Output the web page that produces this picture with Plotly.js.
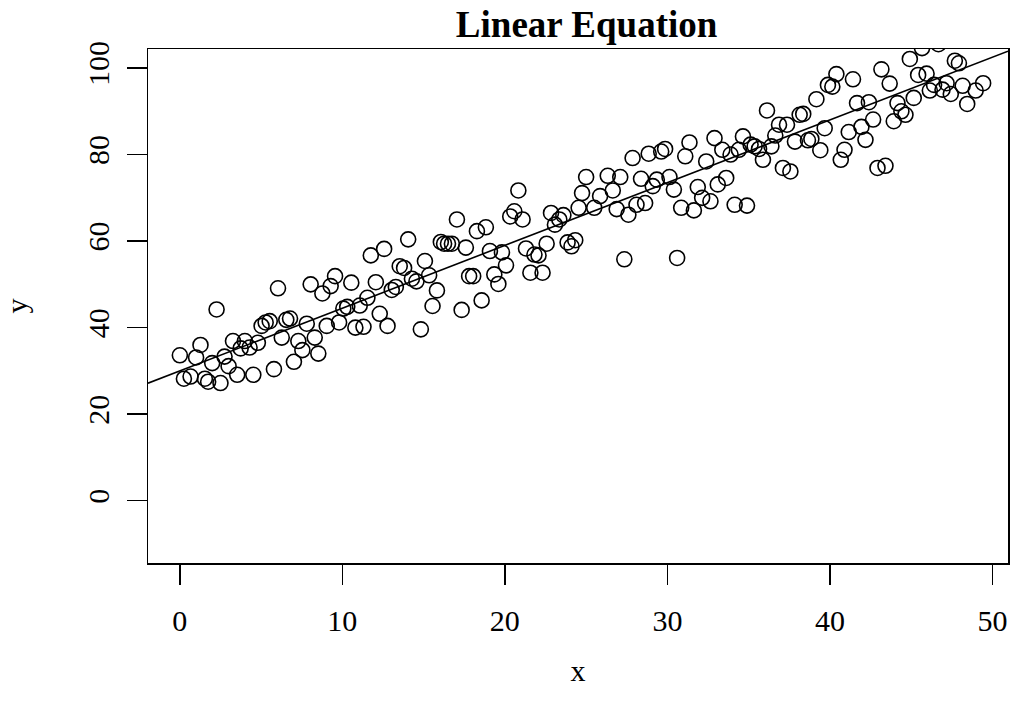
<!DOCTYPE html>
<html>
<head>
<meta charset="utf-8">
<script src="https://cdn.plot.ly/plotly-3.0.1.min.js"></script>
<style>html,body{margin:0;padding:0;background:#fff;}#chart{width:1018px;height:717px;}</style>
</head>
<body>
<div id="chart"></div>
<script>
var xValues = [
  0.0,0.25,0.66,1.0,1.27,1.54,1.74,1.99,2.26,2.5,2.75,3.0,3.27,3.53,3.74,4.0,4.29,4.52,4.8,5.03,
  5.28,5.53,5.79,6.04,6.27,6.55,6.78,7.02,7.29,7.54,7.81,8.05,8.3,8.52,8.77,9.04,9.28,9.55,9.8,10.06,
  10.3,10.55,10.8,11.07,11.3,11.54,11.75,
  12.06,12.3,12.57,12.78,13.04,13.29,13.53,13.8,14.05,14.28,14.56,14.83,15.08,15.34,15.55,15.82,
  16.06,16.26,16.5,16.74,17.05,17.34,17.6,17.8,18.05,18.28,18.57,18.83,19.08,19.35,19.6,19.82,
  20.07,20.33,20.58,20.83,21.09,21.3,21.57,21.82,22.07,22.32,22.57,22.84,23.08,23.35,23.6,23.86,
  24.1,24.33,24.54,24.75,25.0,
  25.5,25.86,26.33,26.64,26.88,27.1,27.35,27.6,27.86,28.1,28.38,28.63,28.85,29.1,29.35,29.62,29.86,
  30.13,30.4,30.6,30.85,31.1,31.36,31.63,31.87,32.14,32.39,32.65,32.9,33.1,33.38,33.62,33.89,
  34.14,34.4,34.65,34.9,35.12,35.37,35.64,35.88,36.13,36.4,36.64,36.87,37.11,37.36,37.57,37.85,
  38.14,38.36,38.65,38.86,39.17,39.41,39.68,39.88,40.15,40.4,40.67,40.9,41.16,41.42,41.67,41.94,
  42.19,42.4,42.66,42.93,43.17,43.42,43.68,43.93,44.16,44.4,44.65,44.92,45.16,45.43,45.67,45.95,
  46.15,46.41,46.68,46.93,47.18,47.44,47.69,47.94,48.17,48.45,48.97,49.43
];
var yValues = [
  33.6,28.2,28.7,33.1,36.0,28.2,27.5,31.8,44.2,27.2,33.3,31.1,36.9,29.1,35.2,36.9,35.4,29.1,36.5,40.4,
  41.2,41.5,30.4,49.1,37.7,41.8,42.1,32.1,36.9,34.8,40.9,50.0,37.7,34.0,47.9,40.4,49.6,51.9,41.2,44.4,
  44.8,50.4,40.0,45.1,40.2,46.9,56.7,
  50.5,43.2,58.2,40.4,48.7,49.4,54.2,53.8,60.4,51.3,50.7,39.6,55.4,52.1,45.0,48.6,
  59.8,59.4,59.4,59.4,65.0,44.1,58.5,51.9,51.9,62.3,46.3,63.2,57.7,52.3,50.1,57.4,
  54.4,65.7,66.9,71.7,65.0,58.3,52.7,56.9,56.7,52.7,59.4,66.5,63.8,65.0,66.0,59.7,
  58.8,60.2,67.7,71.1,74.8,
  67.7,70.4,75.1,71.7,67.4,74.8,55.8,66.1,79.2,68.4,74.4,68.8,80.2,72.7,74.2,80.7,81.3,
  74.8,71.9,56.1,67.7,79.6,82.8,67.1,72.5,70.0,78.4,69.2,83.8,73.1,81.1,74.6,80.0,
  68.4,81.1,84.2,68.2,82.3,81.9,81.3,78.8,90.2,81.9,84.4,86.9,76.9,86.9,76.1,83.0,
  89.2,89.4,83.3,83.6,92.8,81.0,86.1,96.1,95.7,98.6,78.8,81.1,85.2,97.4,91.9,86.4,
  83.4,92.1,88.1,76.9,99.7,77.4,96.4,87.7,91.9,90.0,89.2,102.1,93.1,98.4,104.6,98.7,
  94.8,96.1,105.5,95.0,96.5,94.0,101.7,101.1,95.9,91.7,94.8,96.5
];
// Fitted line coefficients
var fitIntercept = 30.0;
var fitSlope = 1.45;
// Axis ticks and ranges
var xTickVals = [0, 10, 20, 30, 40, 50];
var yTickVals = [0, 20, 40, 60, 80, 100];
var xRange = [-1.96, 50.96];
var yRange = [-14.4, 104.4];

var lineX = [xRange[0], xRange[1]];
var lineY = lineX.map(function (v) { return fitIntercept + fitSlope * v; });

var font = "'Liberation Serif', 'Times New Roman', serif";

var traces = [
  {
    x: xValues, y: yValues, type: 'scatter', mode: 'markers',
    marker: {symbol: 'circle-open', size: 15, color: '#000', line: {width: 1.6, color: '#000'}},
    hoverinfo: 'x+y', showlegend: false
  },
  {
    x: lineX, y: lineY, type: 'scatter', mode: 'lines',
    line: {color: '#000', width: 1.6}, hoverinfo: 'skip', showlegend: false
  }
];

var layout = {
  width: 1018, height: 717,
  paper_bgcolor: '#fff', plot_bgcolor: '#fff',
  margin: {l: 148, r: 10, t: 49, b: 154, pad: 0},
  font: {family: font, size: 30, color: '#000'},
  title: {
    text: '<b>Linear Equation</b>',
    font: {family: font, size: 37, color: '#000'},
    x: 0.51, xref: 'paper', xanchor: 'center',
    y: 1 - 24 / 717, yref: 'container', yanchor: 'middle'
  },
  xaxis: {
    range: xRange, tickmode: 'array', tickvals: xTickVals,
    ticks: 'outside', ticklen: 20, tickwidth: 1.5, tickcolor: '#000',
    showline: true, linewidth: 1.5, linecolor: '#000', mirror: true,
    showgrid: false, zeroline: false,
    ticklabelstandoff: 10,
    tickfont: {family: font, size: 30, color: '#000'},
    title: {text: 'x', font: {family: font, size: 30, color: '#000'}, standoff: 24}
  },
  yaxis: {
    range: yRange, tickmode: 'array', tickvals: yTickVals,
    ticks: 'outside', ticklen: 20, tickwidth: 1.5, tickcolor: '#000',
    showline: true, linewidth: 1.5, linecolor: '#000', mirror: true,
    showgrid: false, zeroline: false,
    tickangle: -90,
    ticklabelstandoff: 6,
    tickfont: {family: font, size: 30, color: '#000'},
    title: {text: 'y', font: {family: font, size: 30, color: '#000'}, standoff: 49}
  }
};

Plotly.newPlot('chart', traces, layout, {staticPlot: true, displayModeBar: false});
</script>
</body>
</html>
